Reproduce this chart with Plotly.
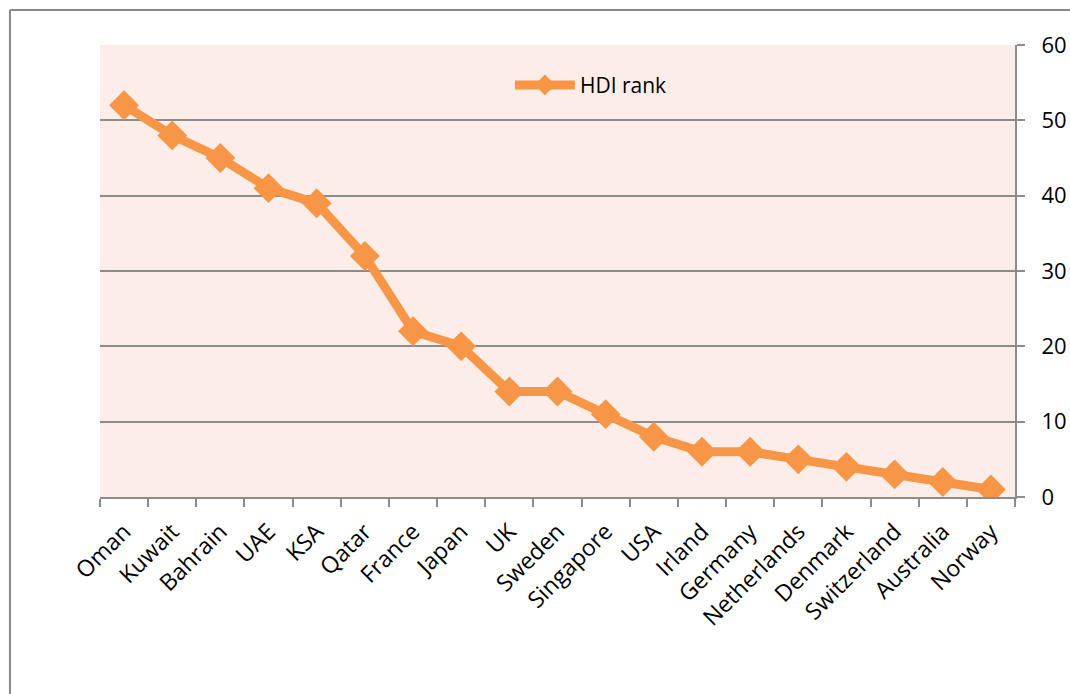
import plotly.graph_objects as go

countries = ["Oman", "Kuwait", "Bahrain", "UAE", "KSA", "Qatar", "France", "Japan", "UK",
             "Sweden", "Singapore", "USA", "Irland", "Germany", "Netherlands", "Denmark",
             "Switzerland", "Australia", "Norway"]
hdi_rank = [52, 48, 45, 41, 39, 32, 22, 20, 14, 14, 11, 8, 6, 6, 5, 4, 3, 2, 1]
y_ticks = [0, 10, 20, 30, 40, 50, 60]

ORANGE = "#F79646"
GRID = "#8C8C8C"
FONT = "Open Sans"

fig = go.Figure()
fig.add_trace(go.Scatter(
    x=countries, y=hdi_rank, name="HDI rank", mode="lines+markers",
    line=dict(color=ORANGE, width=9),
    marker=dict(symbol="diamond", size=23, color=ORANGE),
))

fig.update_layout(
    width=1070, height=694,
    margin=dict(l=100, r=55, t=45, b=197),
    paper_bgcolor="white",
    plot_bgcolor="#FCEDE9",
    font=dict(family=FONT, size=22, color="black"),
    showlegend=True,
    legend=dict(x=0.448, y=0.911, xanchor="left", yanchor="middle",
                bgcolor="rgba(0,0,0,0)", itemwidth=60,
                font=dict(family=FONT, size=21, color="black")),
    xaxis=dict(
        type="category", range=[-0.5, 18.5], tickangle=-45,
        showgrid=False, showline=True, linecolor=GRID, linewidth=2,
        ticks="outside", ticklen=8, tickcolor=GRID, tickwidth=2, ticklabelstandoff=10,
        tickson="boundaries", tickfont=dict(family=FONT, size=23, color="black"),
        automargin=False,
    ),
    yaxis=dict(
        side="right", range=[0, 60], tickvals=y_ticks, ticktext=[str(v) for v in y_ticks],
        showgrid=True, gridcolor=GRID, gridwidth=2,
        showline=True, linecolor=GRID, linewidth=2,
        ticks="outside", ticklen=8, tickcolor=GRID, tickwidth=2, ticklabelstandoff=12,
        zeroline=False, tickfont=dict(family=FONT, size=22, color="black"),
        automargin=False,
    ),
    shapes=[
        dict(type="line", xref="paper", yref="paper", x0=-0.0984, x1=1.08, y0=1.0774, y1=1.0774,
             line=dict(color="#888888", width=2)),
        dict(type="line", xref="paper", yref="paper", x0=-0.0984, x1=-0.0984, y0=1.0774, y1=-0.46,
             line=dict(color="#888888", width=2)),
    ],
)

fig.write_html("out.html", config={"displayModeBar": False},
               post_script="document.body.style.margin='0';document.body.style.overflow='hidden';")
